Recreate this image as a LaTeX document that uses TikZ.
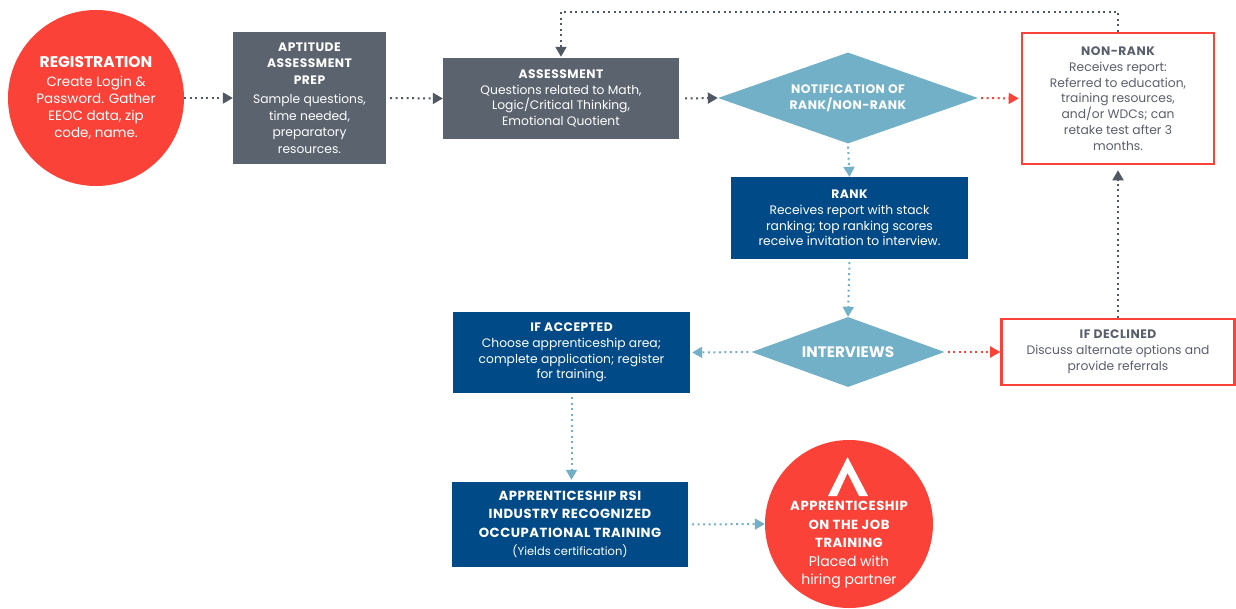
\documentclass[tikz,border=0pt]{standalone}
\usepackage{fontspec}
\setmainfont{Poppins}
\usetikzlibrary{shapes.geometric,arrows.meta}
\definecolor{cred}{RGB}{250,66,56}
\definecolor{cgray}{RGB}{90,99,110}
\definecolor{cblue}{RGB}{0,74,135}
\definecolor{clight}{RGB}{114,176,200}
\definecolor{ctext}{RGB}{90,95,108}
\definecolor{carr}{RGB}{80,88,100}
\newcommand\ttl[1]{{\bfseries\addfontfeatures{LetterSpace=4}#1}}
\newcommand\bigttl[1]{{\fontsize{13.2}{18}\selectfont\bfseries\addfontfeatures{LetterSpace=4}#1}}
\newcommand\circtxt[1]{{\fontsize{13.5}{16.5}\selectfont #1}}
\tikzset{
  every node/.style={align=center, inner sep=0pt, font=\fontsize{12.3}{15.8}\selectfont},
  darkbox/.style={rectangle, fill=cgray, text=white},
  bluebox/.style={rectangle, fill=cblue, text=white},
  redbox/.style={rectangle, draw=cred, line width=2.6pt, fill=white, text=ctext},
  redcirc/.style={circle, fill=cred, text=white},
  dia/.style={diamond, fill=clight, text=white},
  flow/.style={line width=2pt, dash pattern=on 2pt off 3.5pt, -{Triangle[length=10pt,width=11pt]}},
}
\begin{document}
\begin{tikzpicture}[x=1pt,y=-1pt]
\useasboundingbox (0,0) rectangle (1236,608);
\fill[white] (0,0) rectangle (1236,608);

\node[redcirc, minimum size=176pt, font=\fontsize{13.5}{17}\selectfont] (reg) at (96,98)
  {{\fontsize{15.5}{19}\selectfont\bfseries REGISTRATION}\\[2pt]\circtxt{Create Login \&}\\\circtxt{Password. Gather}\\\circtxt{EEOC data, zip}\\\circtxt{code, name.}};
\node[darkbox, minimum width=153pt, minimum height=132pt, font=\fontsize{12.3}{16.5}\selectfont] (apt) at (309.5,98)
  {\ttl{APTITUDE}\\\ttl{ASSESSMENT}\\\ttl{PREP}\\[3pt]Sample questions,\\time needed,\\preparatory\\resources.};
\node[darkbox, minimum width=236pt, minimum height=81pt] (assess) at (561,98.5)
  {\ttl{ASSESSMENT}\\Questions related to Math,\\Logic/Critical Thinking,\\Emotional Quotient};
\node[dia, aspect=2.86, minimum width=260pt, minimum height=91pt] (notif) at (848,98)
  {\ttl{NOTIFICATION OF}\\\ttl{RANK/NON-RANK}};
\node[redbox, minimum width=192pt, minimum height=131pt] (nonrank) at (1118,98.5)
  {\ttl{NON-RANK}\\Receives report:\\Referred to education,\\training resources,\\and/or WDCs; can\\retake test after 3\\months.};
\node[bluebox, minimum width=237pt, minimum height=82pt] (rank) at (849.5,218)
  {\ttl{RANK}\\Receives report with stack\\ranking; top ranking scores\\receive invitation to interview.};
\node[dia, aspect=2.76, minimum width=193pt, minimum height=70pt] (interv) at (848,352)
  {{\fontsize{15.2}{18}\selectfont\bfseries INTERVIEWS}};
\node[bluebox, minimum width=237pt, minimum height=81pt] (acc) at (571.5,352.5)
  {\ttl{IF ACCEPTED}\\Choose apprenticeship area;\\complete application; register\\for training.};
\node[redbox, minimum width=233pt, minimum height=66pt] (decl) at (1118,352)
  {\ttl{IF DECLINED}\\Discuss alternate options and\\provide referrals};
\node[bluebox, minimum width=236pt, minimum height=85pt, font=\fontsize{12.3}{18.5}\selectfont] (rsi) at (570,524.5)
  {\bigttl{APPRENTICESHIP RSI}\\\bigttl{INDUSTRY RECOGNIZED}\\\bigttl{OCCUPATIONAL TRAINING}\\{\fontsize{11.5}{14}\selectfont(Yields certification)}};
\node[redcirc, minimum size=168pt] (ojt) at (849,524) {};
\fill[white] (828,496) -- (847.5,457) -- (868,496) -- (859,496) -- (847.5,473) -- (837,496) -- cycle;
\node[text=white, font=\fontsize{14}{18.5}\selectfont] (ojtt) at (849,545)
  {\bigttl{APPRENTICESHIP}\\\bigttl{ON THE JOB}\\\bigttl{TRAINING}\\{\fontsize{14}{18}\selectfont Placed with}\\{\fontsize{14}{18}\selectfont hiring partner}};

\draw[flow, carr] (reg.east) -- (apt.west);
\draw[flow, carr, shorten <=4pt] (apt.east) -- (assess.west);
\draw[flow, carr, shorten <=6pt] (assess.east) -- (notif.west);
\draw[flow, cred, shorten <=3pt, shorten >=2pt] (notif.east) -- (nonrank.west);
\draw[flow, carr, shorten >=1pt] (nonrank.north) -- ++(0,-20) -| (assess.north);
\draw[flow, carr, shorten >=5pt] (decl.north) -- (nonrank.south);
\draw[flow, clight, shorten <=3pt] (notif.south) -- (rank.north);
\draw[flow, clight, shorten <=3pt] (rank.south) -- (interv.north);
\draw[flow, clight, shorten <=3pt, shorten >=2pt] (interv.west) -- (acc.east);
\draw[flow, cred, shorten <=3pt] (interv.east) -- (decl.west);
\draw[flow, clight, shorten <=4pt, shorten >=2pt] (acc.south) -- (acc.south |- rsi.north);
\draw[flow, clight, shorten <=4pt] (rsi.east) -- (ojt.west);
\end{tikzpicture}
\end{document}
